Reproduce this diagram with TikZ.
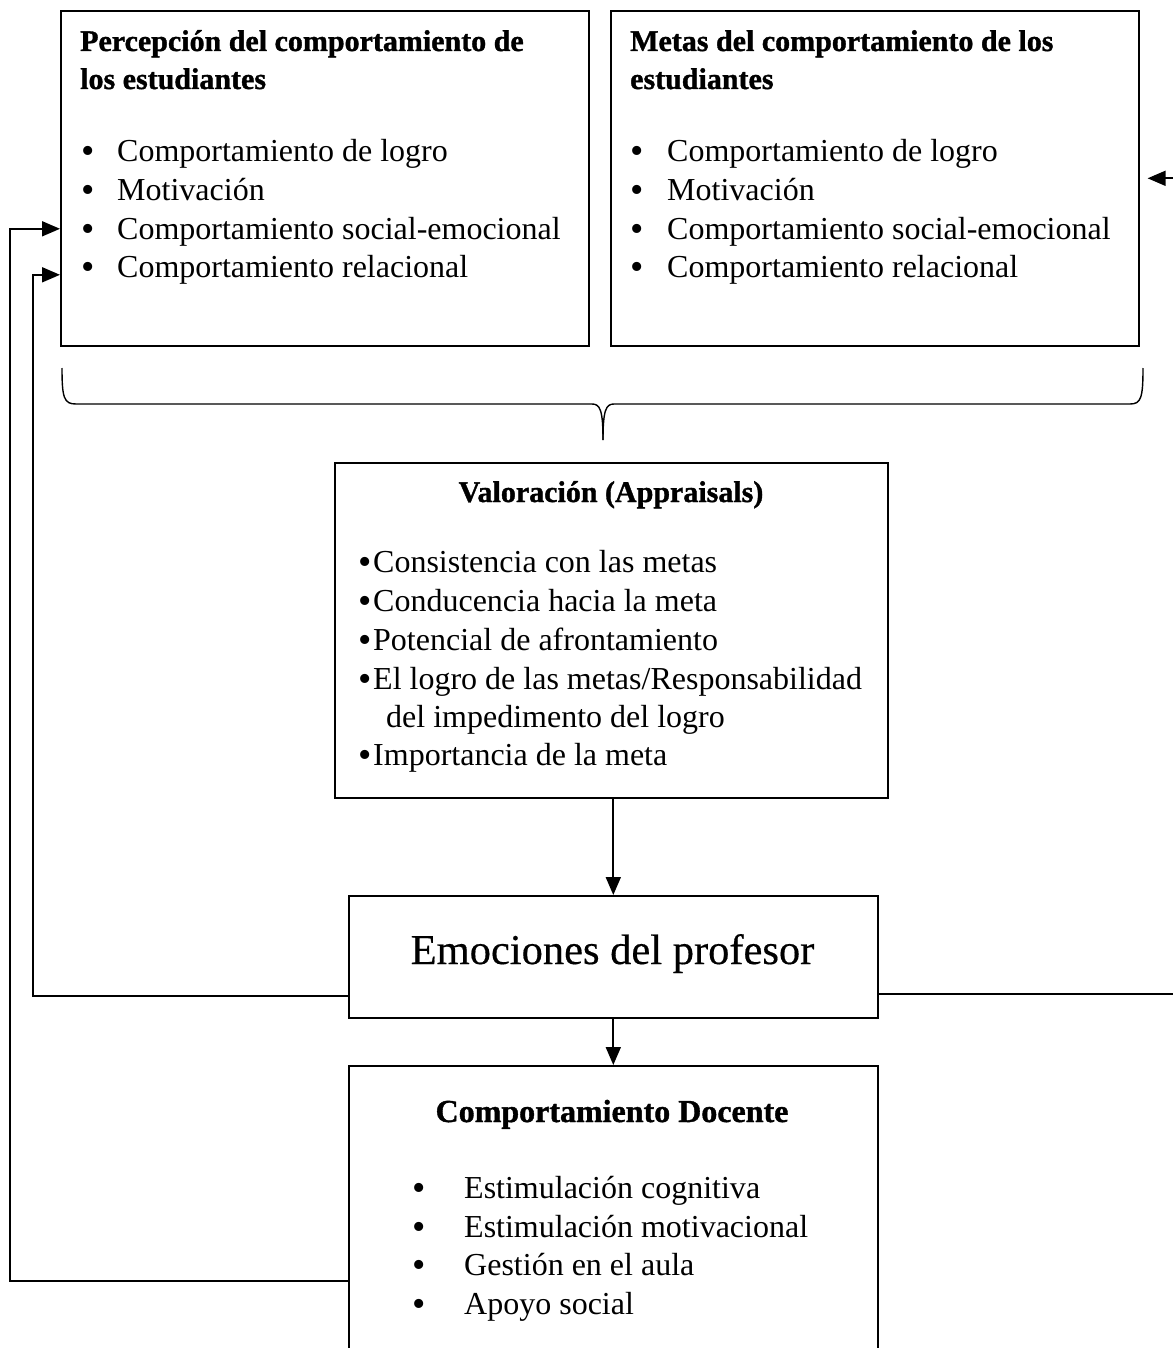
\documentclass[tikz,border=0pt]{standalone}
\usepackage{fontspec}
\setmainfont{Liberation Serif}
\usetikzlibrary{arrows.meta}
\begin{document}
\begin{tikzpicture}[x=1pt,y=-1pt,
  box/.style={draw, line width=1.6pt, inner sep=0pt, anchor=north west},
  txt/.style={anchor=base west, inner sep=0pt, font=\fontsize{32}{38}\selectfont},
  bul/.style={anchor=base west, inner sep=0pt, font=\fontsize{38}{38}\selectfont},
  ttl/.style={anchor=base west, inner sep=0pt, font=\fontsize{30}{38}\selectfont\bfseries\addfontfeature{FakeBold=1.2}},
  ctl/.style={anchor=base, inner sep=0pt, font=\fontsize{30}{38}\selectfont\bfseries\addfontfeature{FakeBold=1.2}},
  conn/.style={line width=1.8pt},
  arr/.style={conn, -{Triangle[length=18pt,width=15pt]}}]
\useasboundingbox (0,0) rectangle (1172,1348);
% boxes
\node[box, minimum width=528pt, minimum height=335pt] (perc) at (60,10) {};
\node[box, minimum width=528pt, minimum height=335pt] (meta) at (610,10) {};
\node[box, minimum width=553pt, minimum height=335pt] (val) at (334,462) {};
\node[box, minimum width=529pt, minimum height=122pt] (emo) at (348,895) {};
\node[box, minimum width=529pt, minimum height=300pt] (cd) at (348,1065) {};
% box 1
\node[ttl] (p1) at (80,51) {Percepción del comportamiento de};
\node[ttl] (p2) at (80,89) {los estudiantes};
\foreach \t [count=\i] in {Comportamiento de logro, Motivación, Comportamiento social-emocional, Comportamiento relacional}{
  \node[bul] (pb\i) at (81,125+38.7*\i) {•};
  \node[txt] (pt\i) at (117,123+38.7*\i) {\t};
}
% box 2
\node[ttl] (m1) at (630,51) {Metas del comportamiento de los};
\node[ttl] (m2) at (630,89) {estudiantes};
\foreach \t [count=\i] in {Comportamiento de logro, Motivación, Comportamiento social-emocional, Comportamiento relacional}{
  \node[bul] (mb\i) at (630,125+38.7*\i) {•};
  \node[txt] (mt\i) at (667,123+38.7*\i) {\t};
}
% brace
\draw[line width=1.4pt] (62,368) .. controls (62,398) and (64,404) .. (76,404) -- (592,404) .. controls (600,404) and (603,410) .. (603,440);
\draw[line width=1.4pt] (603,440) .. controls (603,410) and (606,404) .. (614,404) -- (1130,404) .. controls (1141,404) and (1143,398) .. (1143,368);
% valoracion
\node[ctl] (vt) at (611,502) {Valoración (Appraisals)};
\foreach \t/\yy [count=\i] in {{Consistencia con las metas}/572, {Conducencia hacia la meta}/611, {Potencial de afrontamiento}/650, {El logro de las metas{/}Responsabilidad}/689, {Importancia de la meta}/765}{
  \node[bul] (vb\i) at (358,\yy+2) {•};
  \node[txt] (vx\i) at (373,\yy) {\t};
}
\node[txt] (vc) at (386,727) {del impedimento del logro};
% emociones
\node[anchor=base, inner sep=0pt, font=\fontsize{42.5}{50}\selectfont\addfontfeature{FakeBold=0.4}] (et) at (612.5,964) {Emociones del profesor};
% comportamiento docente
\node[ctl, font=\fontsize{32}{38}\selectfont\bfseries\addfontfeature{FakeBold=1.2}] (ct) at (612,1122) {Comportamiento Docente};
\foreach \t [count=\i] in {Estimulación cognitiva, Estimulación motivacional, Gestión en el aula, Apoyo social}{
  \node[bul] (cb\i) at (412,1162+38.5*\i) {•};
  \node[txt] (cx\i) at (464,1160+38.5*\i) {\t};
}
% connectors
\draw[arr] (val.south -| emo.north) -- (emo.north);
\draw[arr] (emo.south) -- (cd.north);
\draw[arr] ([yshift=-39pt]emo.west) -- ++(-315,0) |- ([yshift=-96.5pt]perc.west);
\draw[arr] ([yshift=-65pt]cd.west) -- ++(-338,0) |- ([yshift=-50.5pt]perc.west);
\draw[arr, shorten >=8pt] ([yshift=-37pt]emo.east) -- ++(308,0) |- (meta.east);
\end{tikzpicture}
\end{document}
